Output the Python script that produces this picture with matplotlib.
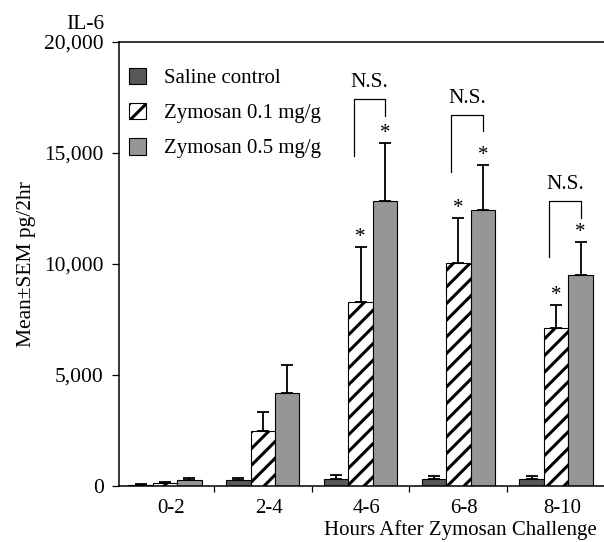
import matplotlib
matplotlib.use("Agg")
import matplotlib.pyplot as plt
import numpy as np

plt.rcParams['font.family'] = ['Liberation Serif', 'DejaVu Serif']
plt.rcParams['hatch.linewidth'] = 2.2

# data (pg/2hr)
groups = ["0-2", "2-4", "4-6", "6-8", "8-10"]
saline = [50, 270, 300, 330, 320]
saline_err = [30, 80, 180, 100, 150]
zym01 = [150, 2500, 8300, 10050, 7100]
zym01_err = [40, 850, 2450, 2000, 1050]
zym05 = [280, 4200, 12850, 12450, 9500]
zym05_err = [100, 1250, 2600, 2000, 1500]

# significance marks and N.S. brackets (groups 4-6, 6-8, 8-10)
star_groups = [2, 3, 4]
ns_top = [17430, 16710, 12840]
ns_left_bottom = [14860, 14140, 10320]
ns_right_bottom = [16670, 15990, 12070]

fig = plt.figure(figsize=(6.04, 5.42), dpi=100)
ax = fig.add_axes([0.197, 0.1033, 0.803, 0.8192])

x = np.arange(len(groups))
w = 0.25

def upper(err):
    return [np.zeros(len(err)), err]

ekw = dict(elinewidth=1.3, capthick=1.3, ecolor='black')
ax.bar(x - w, saline, w, color='#585858', edgecolor='black', linewidth=0.8,
       yerr=upper(saline_err), capsize=4.5, error_kw=ekw, label='Saline control')
ax.bar(x, zym01, w, color='white', edgecolor='black', linewidth=0.8, hatch='//',
       yerr=upper(zym01_err), capsize=4.5, error_kw=ekw, label='Zymosan 0.1 mg/g')
ax.bar(x + w, zym05, w, color='#969696', edgecolor='black', linewidth=0.8,
       yerr=upper(zym05_err), capsize=4.5, error_kw=ekw, label='Zymosan 0.5 mg/g')

# asterisks
for i in star_groups:
    ax.text(x[i], zym01[i] + zym01_err[i], '*', ha='center', va='bottom', fontsize=15)
    ax.text(x[i] + w, zym05[i] + zym05_err[i], '*', ha='center', va='bottom', fontsize=15)

# N.S. brackets
for k, i in enumerate(star_groups):
    xl = x[i] - 0.07
    xr = x[i] + w
    ax.plot([xl, xl, xr, xr], [ns_left_bottom[k], ns_top[k], ns_top[k], ns_right_bottom[k]],
            color='black', linewidth=0.9)
    ax.text((xl + xr) / 2, ns_top[k] + 300, 'N.S.', ha='center', va='bottom', fontsize=15.5)

ax.set_xlim(-0.47, 4.49)
ax.set_ylim(0, 20000)
ax.set_yticks([0, 5000, 10000, 15000, 20000])
ax.set_yticklabels(['0', '5,000', '10,000', '15,000', '20,000'], fontsize=15.5)
ax.set_xticks(x + 0.06)
ax.set_xticklabels(groups, fontsize=15)
ax.tick_params(axis='x', length=0, pad=9)
ax.set_xticks(x[:-1] + 0.5, minor=True)
ax.tick_params(axis='x', which='minor', length=4, width=0.9)
ax.tick_params(axis='y', length=5, width=0.9, pad=6)

ax.spines['right'].set_visible(False)
for s in ['left', 'bottom', 'top']:
    ax.spines[s].set_linewidth(1.1)

ax.set_ylabel('Mean±SEM pg/2hr', fontsize=15.5, labelpad=6)
ax.text(-0.07, 1.04, 'IL-6', transform=ax.transAxes, ha='center', va='center', fontsize=15.5)
fig.text(597 / 604, 1.5 / 542, 'Hours After Zymosan Challenge',
         ha='right', va='bottom', fontsize=15)

ax.legend(loc='upper left', bbox_to_anchor=(-0.01, 0.975), frameon=False, fontsize=15,
          handlelength=0.85, handleheight=0.85, handletextpad=0.85, labelspacing=0.7,
          borderaxespad=0.3)

fig.savefig('out.png', dpi=100)
